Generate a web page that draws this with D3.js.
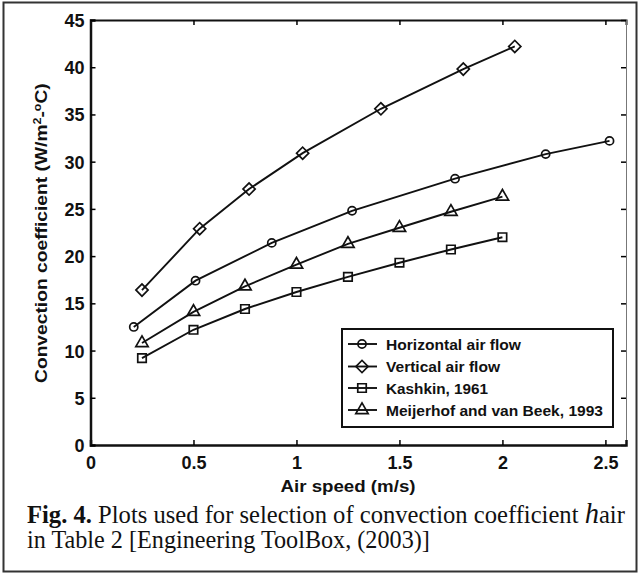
<html>
  <head>
    <style>
      body { margin: 0; background: #fff; }
      .lbl { font-family: "Liberation Sans", Arial, sans-serif; font-weight: bold; fill: #111; }
      .cap { font-family: "Liberation Serif", "Times New Roman", serif; fill: #111; }
    </style>
  </head>
  <body>
    <script src="https://cdn.jsdelivr.net/npm/d3@7/dist/d3.min.js"></script>
    <script>
    var width = 641, height = 575;

    // values
    var seriesNames = ["Horizontal air flow", "Vertical air flow", "Kashkin, 1961", "Meijerhof and van Beek, 1993"];
    var horizX = [0.21, 0.51, 0.88, 1.27, 1.77, 2.21, 2.52];
    var horizY = [12.5, 17.4, 21.4, 24.8, 28.2, 30.8, 32.2];
    var vertX = [0.25, 0.53, 0.77, 1.03, 1.41, 1.81, 2.06];
    var vertY = [16.4, 22.9, 27.1, 30.9, 35.6, 39.8, 42.2];
    var kashX = [0.25, 0.5, 0.75, 1, 1.25, 1.5, 1.75, 2];
    var kashY = [9.2, 12.2, 14.4, 16.2, 17.8, 19.3, 20.7, 22.0];
    var meijX = [0.25, 0.5, 0.75, 1, 1.25, 1.5, 1.75, 2];
    var meijY = [10.8, 14.1, 16.8, 19.1, 21.3, 23.0, 24.7, 26.3];
    var xTicks = [0, 0.5, 1, 1.5, 2, 2.5];
    var yTicks = [0, 5, 10, 15, 20, 25, 30, 35, 40, 45];

    var svg = d3.select("body").append("svg")
        .attr("width", width)
        .attr("height", height);

    // outer frame
    svg.append("rect")
        .attr("x", 3.5).attr("y", 2.5)
        .attr("width", 633).attr("height", 569)
        .attr("fill", "none").attr("stroke", "#333").attr("stroke-width", 2);

    var x = d3.scaleLinear().domain([0, 2.6]).range([90.5, 626]);
    var y = d3.scaleLinear().domain([0, 45]).range([445, 20]);

    // top and right mirror axes (ticks only)
    svg.append("g").attr("transform", "translate(0,20)")
        .call(d3.axisBottom(x).tickValues(xTicks).tickSize(5).tickFormat(""))
        .call(function(g){ g.select(".domain").attr("stroke-width", 2).attr("stroke", "#111"); g.selectAll("line").attr("stroke-width", 1.5); });
    svg.append("g").attr("transform", "translate(626,0)")
        .call(d3.axisLeft(y).tickValues(yTicks).tickSize(5).tickFormat(""))
        .call(function(g){ g.select(".domain").attr("stroke-width", 1).attr("stroke", "#777"); g.selectAll("line").attr("stroke-width", 1.5); });

    // bottom axis
    var gx = svg.append("g").attr("transform", "translate(0,445)")
        .call(d3.axisTop(x).tickValues(xTicks).tickSize(5).tickFormat(d3.format("")));
    gx.select(".domain").attr("stroke-width", 2.5).attr("stroke", "#111");
    gx.selectAll(".tick line").attr("stroke-width", 1.5);
    gx.selectAll(".tick text").attr("class", "lbl").attr("y", 23.5).attr("dy", 0)
        .style("font-size", "18px").attr("text-anchor", "middle");

    // left axis
    var gy = svg.append("g").attr("transform", "translate(90.5,0)")
        .call(d3.axisRight(y).tickValues(yTicks).tickSize(5));
    gy.select(".domain").attr("stroke-width", 2.5).attr("stroke", "#111");
    gy.selectAll(".tick line").attr("stroke-width", 1.5);
    gy.selectAll(".tick text").attr("class", "lbl").attr("x", -6).attr("dy", "0.36em")
        .style("font-size", "18px").attr("text-anchor", "end");

    // axis titles
    svg.append("text").attr("class", "lbl")
        .attr("x", 348).attr("y", 492)
        .attr("text-anchor", "middle")
        .style("font-size", "16px")
        .attr("textLength", 135).attr("lengthAdjust", "spacingAndGlyphs")
        .text("Air speed (m/s)");

    var yt = svg.append("text").attr("class", "lbl")
        .attr("transform", "translate(47,383) rotate(-90)")
        .style("font-size", "17px");
    yt.append("tspan").text("Convection coefficient (W/m");
    yt.append("tspan").attr("dy", -6).style("font-size", "11px").text("2");
    yt.append("tspan").attr("dy", 6).text("-");
    yt.append("tspan").attr("dy", -6).style("font-size", "11px").text("o");
    yt.append("tspan").attr("dy", 6).text("C)");
    var ytLen = yt.node().getComputedTextLength();
    yt.attr("transform", "translate(47,383) rotate(-90) scale(" + (300 / ytLen) + ",1)");

    // series
    var series = [
      { name: seriesNames[0], xs: horizX, ys: horizY, shape: "circle", w: 135 },
      { name: seriesNames[1], xs: vertX, ys: vertY, shape: "diamond", w: 114 },
      { name: seriesNames[2], xs: kashX, ys: kashY, shape: "square", w: 102 },
      { name: seriesNames[3], xs: meijX, ys: meijY, shape: "triangle", w: 217 }
    ];

    function symbolPath(shape) {
      if (shape == "circle") return d3.symbol().type(d3.symbolCircle).size(52)();
      if (shape == "square") return d3.symbol().type(d3.symbolSquare).size(72)();
      if (shape == "triangle") return d3.symbol().type(d3.symbolTriangle).size(66)();
      return d3.symbol().type(d3.symbolSquare).size(74)();
    }
    function symbolRot(shape) { return shape == "diamond" ? " rotate(45)" : ""; }

    var line = d3.line().x(function(d){ return x(d[0]); }).y(function(d){ return y(d[1]); });

    series.forEach(function(s){
      var pts = s.xs.map(function(v, i){ return [v, s.ys[i]]; });
      svg.append("path")
          .datum(pts)
          .attr("d", line)
          .attr("fill", "none")
          .attr("stroke", "#111")
          .attr("stroke-width", 1.9);
      svg.append("g").selectAll("path")
          .data(pts)
          .enter().append("path")
          .attr("d", symbolPath(s.shape))
          .attr("transform", function(d){ return "translate(" + x(d[0]) + "," + y(d[1]) + ")" + symbolRot(s.shape); })
          .attr("fill", "none")
          .attr("stroke", "#111")
          .attr("stroke-width", 1.7);
    });

    // legend
    var legend = svg.append("g");
    legend.append("rect")
        .attr("x", 342).attr("y", 329)
        .attr("width", 271).attr("height", 98)
        .attr("fill", "#fff").attr("stroke", "#111").attr("stroke-width", 2);
    var rowY = [344, 366.5, 388, 410];
    series.forEach(function(s, i){
      var row = legend.append("g").attr("transform", "translate(0," + rowY[i] + ")");
      row.append("line").attr("x1", 348).attr("x2", 377).attr("y1", 0).attr("y2", 0)
          .attr("stroke", "#111").attr("stroke-width", 1.9);
      row.append("path").attr("d", symbolPath(s.shape))
          .attr("transform", "translate(362,0)" + symbolRot(s.shape))
          .attr("fill", "none").attr("stroke", "#111").attr("stroke-width", 1.7);
      row.append("text").attr("class", "lbl")
          .attr("x", 386).attr("y", 5.5)
          .style("font-size", "15px")
          .attr("textLength", s.w).attr("lengthAdjust", "spacingAndGlyphs")
          .text(s.name);
    });

    // caption
    var c1 = svg.append("text").attr("class", "cap").style("font-size", "25px");
    c1.append("tspan").style("font-weight", "bold").text("Fig. 4.");
    c1.append("tspan").text(" Plots used for selection of convection coefficient ");
    c1.append("tspan").style("font-style", "italic").style("font-size", "29px").text("h");
    c1.append("tspan").text("air");
    var c1Len = c1.node().getComputedTextLength();
    c1.attr("transform", "translate(27,523) scale(" + (598 / c1Len) + ",1)");

    var c2 = svg.append("text").attr("class", "cap").style("font-size", "25px")
        .text("in Table 2 [Engineering ToolBox, (2003)]");
    var c2Len = c2.node().getComputedTextLength();
    c2.attr("transform", "translate(27,548) scale(" + (403 / c2Len) + ",1)");
    </script>
  </body>
</html>
